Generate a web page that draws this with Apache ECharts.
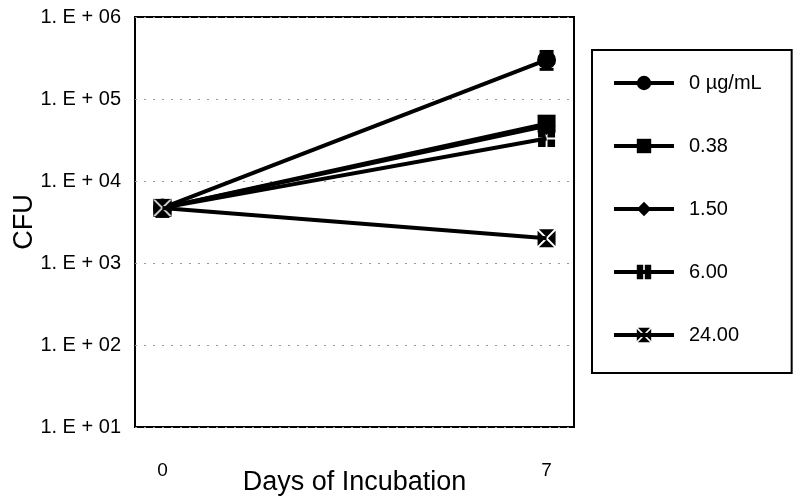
<!DOCTYPE html>
<html>
<head>
<meta charset="utf-8">
<script src="https://cdn.jsdelivr.net/npm/echarts@6/dist/echarts.min.js"></script>
<style>
  html, body { margin: 0; padding: 0; background: #fff; }
  #main { width: 800px; height: 504px; }
</style>
</head>
<body>
<div id="main"></div>
<script>
// data
var days = [0, 7];
var seriesNames = ['0 µg/mL', '0.38', '1.50', '6.00', '24.00'];
var cfu0 = [4700, 300000];
var cfu038 = [4700, 50000];
var cfu150 = [4700, 47000];
var cfu600 = [4700, 33000];
var cfu2400 = [4700, 2000];
// error bars: [day, low, high]
var errBars = [[0, 3700, 5600], [7, 230000, 380000]];
var yTicks = [10, 100, 1000, 10000, 100000, 1000000];

var quadSquare = 'path://M0,0h4v4h-4z M5,0h4v4h-4z M0,5h4v4h-4z M5,5h4v4h-4z';
var xSquare = 'path://M0.7,0h7.6L4.5,3.8z M9,0.7v7.6L5.2,4.5z M8.3,9h-7.6L4.5,5.2z M0,8.3v-7.6L3.8,4.5z';
var symbols = ['circle', 'rect', 'diamond', quadSquare, xSquare];
var sizes = [19, 18, 18, 17, 18];
var values = [cfu0, cfu038, cfu150, cfu600, cfu2400];

var myChart = echarts.init(document.getElementById('main'));

var font = 'Liberation Sans, Arial, sans-serif';

var lineSeries = seriesNames.map(function (name, i) {
    return {
        name: name,
        type: 'line',
        data: days.map(function (d, j) { return [d, values[i][j]]; }),
        symbol: symbols[i],
        symbolSize: sizes[i],
        lineStyle: { color: '#000', width: 4 },
        itemStyle: { color: '#000', borderWidth: 0 },
        z: i === 4 ? 6 : 3
    };
});

// white backing under the 24.00 marker so its white cross shows through
var maskSeries = {
    type: 'scatter',
    name: 'mask',
    symbol: 'rect',
    symbolSize: 17,
    itemStyle: { color: '#fff' },
    data: days.map(function (d, j) { return [d, cfu2400[j]]; }),
    z: 5,
    silent: true
};

var option = {
    animation: false,
    backgroundColor: '#fff',
    textStyle: { fontFamily: font, color: '#000' },
    grid: {
        left: 135, top: 17, width: 439, height: 410,
        show: true, borderColor: '#000', borderWidth: 2,
        containLabel: false,
        outerBoundsMode: 'none'
    },
    legend: {
        orient: 'vertical',
        left: 592, top: 50,
        data: seriesNames,
        itemWidth: 60, itemHeight: 18,
        itemGap: 43,
        padding: [23, 30, 28, 20],
        borderColor: '#000', borderWidth: 2,
        lineStyle: { width: 4 },
        textStyle: { fontFamily: font, fontSize: 20, color: '#000', padding: [0, 0, 0, 10] }
    },
    xAxis: {
        type: 'value',
        min: -0.5, max: 7.5,
        name: 'Days of Incubation',
        nameLocation: 'middle',
        nameGap: 42,
        nameMoveOverlap: false,
        nameTextStyle: { fontFamily: font, fontSize: 27, color: '#000' },
        axisLine: { show: false },
        axisTick: { show: false },
        splitLine: { show: false },
        axisLabel: {
            customValues: days,
            margin: 34,
            fontFamily: font, fontSize: 19, color: '#000'
        }
    },
    yAxis: {
        type: 'log',
        logBase: 10,
        min: yTicks[0], max: yTicks[yTicks.length - 1],
        name: 'CFU',
        nameLocation: 'middle',
        nameRotate: 90,
        nameGap: 97,
        nameMoveOverlap: false,
        nameTextStyle: { fontFamily: font, fontSize: 27, color: '#000' },
        axisLine: { show: false },
        axisTick: { show: false },
        minorTick: { show: false },
        splitLine: { show: true, lineStyle: { color: '#999', type: [2, 7], width: 1 } },
        axisLabel: {
            margin: 14,
            fontFamily: font, fontSize: 20, color: '#000',
            formatter: function (v) {
                var e = Math.round(Math.log10(v));
                return '1. E + ' + (e < 10 ? '0' : '') + e;
            }
        }
    },
    series: lineSeries.concat([maskSeries, {
        type: 'custom',
        name: 'err',
        z: 2,
        data: errBars,
        renderItem: function (params, api) {
            var x = api.value(0);
            var lo = api.coord([x, api.value(1)]);
            var hi = api.coord([x, api.value(2)]);
            var w = 7;
            var st = { stroke: '#000', lineWidth: 3 };
            return {
                type: 'group',
                children: [
                    { type: 'line', shape: { x1: lo[0], y1: lo[1], x2: hi[0], y2: hi[1] }, style: st },
                    { type: 'line', shape: { x1: lo[0] - w, y1: lo[1], x2: lo[0] + w, y2: lo[1] }, style: st },
                    { type: 'line', shape: { x1: hi[0] - w, y1: hi[1], x2: hi[0] + w, y2: hi[1] }, style: st }
                ]
            };
        }
    }])
};

myChart.setOption(option);
</script>
</body>
</html>
